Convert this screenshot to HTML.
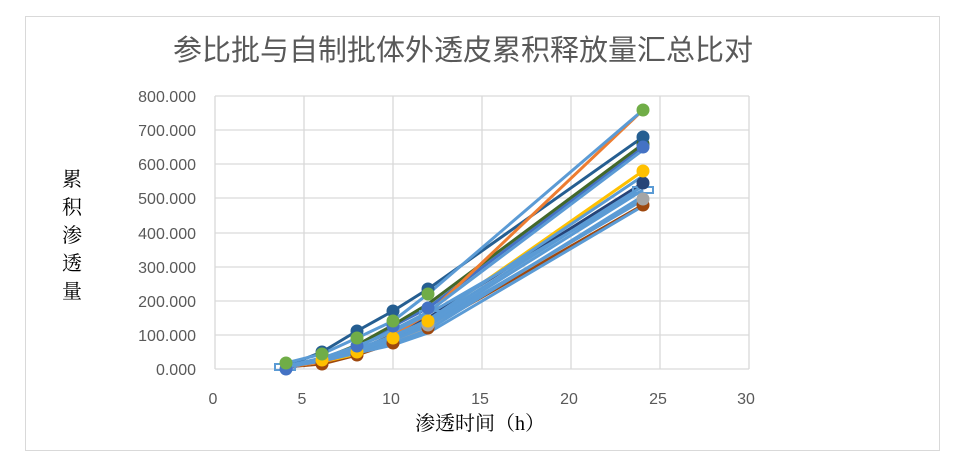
<!DOCTYPE html><html><head><meta charset="utf-8"><style>body{margin:0;background:#fff}svg{display:block}.s{font-family:"Liberation Sans","Noto Sans CJK SC",sans-serif}.sr{font-family:"Liberation Serif","Noto Serif CJK SC",serif}</style></head><body>
<svg width="966" height="466" viewBox="0 0 966 466">
<rect x="0" y="0" width="966" height="466" fill="#fff"/>
<rect x="25.5" y="16.5" width="914" height="434" fill="#fff" stroke="#d9d9d9"/>
<text class="s" x="463" y="60" font-size="29" fill="#595959" text-anchor="middle">参比批与自制批体外透皮累积释放量汇总比对</text>
<g stroke="#d9d9d9" stroke-width="1.3">
<line x1="215" y1="96" x2="749" y2="96"/><line x1="215" y1="130" x2="749" y2="130"/><line x1="215" y1="164" x2="749" y2="164"/><line x1="215" y1="198" x2="749" y2="198"/><line x1="215" y1="233" x2="749" y2="233"/><line x1="215" y1="267" x2="749" y2="267"/><line x1="215" y1="301" x2="749" y2="301"/><line x1="215" y1="335" x2="749" y2="335"/><line x1="215" y1="369" x2="749" y2="369"/>
<line x1="215" y1="96" x2="215" y2="369"/><line x1="304" y1="96" x2="304" y2="369"/><line x1="393" y1="96" x2="393" y2="369"/><line x1="482" y1="96" x2="482" y2="369"/><line x1="571" y1="96" x2="571" y2="369"/><line x1="660" y1="96" x2="660" y2="369"/><line x1="749" y1="96" x2="749" y2="369"/>
</g>
<g class="s" font-size="16" fill="#595959" text-anchor="end">
<text x="196" y="102">800.000</text><text x="196" y="136">700.000</text><text x="196" y="170">600.000</text><text x="196" y="204">500.000</text><text x="196" y="239">400.000</text><text x="196" y="273">300.000</text><text x="196" y="307">200.000</text><text x="196" y="341">100.000</text><text x="196" y="375">0.000</text>
</g>
<g class="s" font-size="16" fill="#595959" text-anchor="middle">
<text x="213" y="404">0</text><text x="302" y="404">5</text><text x="391" y="404">10</text><text x="480" y="404">15</text><text x="569" y="404">20</text><text x="658" y="404">25</text><text x="746" y="404">30</text>
</g>
<text class="sr" x="480" y="430" font-size="20" fill="#000" text-anchor="middle">渗透时间（h）</text>
<g class="sr" font-size="20" fill="#000" text-anchor="middle">
<text x="72" y="186">累</text><text x="72" y="214">积</text><text x="72" y="242">渗</text><text x="72" y="270">透</text><text x="72" y="298">量</text>
</g>
<g fill="none" stroke-width="3" stroke-linejoin="round">
<polyline stroke="#9e480e" points="286,367 322,364 357,355 393,343 428,328 643,205"/>
<polyline stroke="#a5a5a5" points="286,367 322,362 357,352 393,342 428,328 643,199"/>
<polyline stroke="#264478" points="286,367 322,360 357,350 393,335 428,318 643,183"/>
<polyline stroke="#ffc000" points="286,367 322,362 357,354 393,338 428,321 643,171"/>
<polyline stroke="#4472c4" points="286,369 322,359 357,348 393,326 428,308 643,147"/>
<polyline stroke="#43682b" points="286,366 322,359 357,345 393,325 428,304 643,144"/>
<polyline stroke="#255e91" points="286,366 322,352 357,331 393,311 428,289 643,137"/>
<polyline stroke="#ed7d31" points="286,367 322,362 357,352 393,335 428,314 643,110"/>
<polyline stroke="#5b9bd5" points="286,367 322,360 357,351 393,343 428,330 643,196"/>
<polyline stroke="#5b9bd5" points="286,366 322,361 357,353 393,345 428,333 643,206"/>
<polyline stroke="#5b9bd5" points="286,366 322,358 357,348 393,338 428,322 643,186"/>
<polyline stroke="#5b9bd5" points="286,366 322,359 357,350 393,340 428,325 643,190"/>
<polyline stroke="#5b9bd5" points="286,367 322,361 357,350 393,340 428,326 643,200"/>
<polyline stroke="#5b9bd5" points="286,367 322,359 357,349 393,336 428,320 643,176"/>
<polyline stroke="#5b9bd5" points="286,367 322,358 357,347 393,330 428,312 643,150"/>
<polyline stroke="#5b9bd5" points="286,363 322,354 357,338 393,321 428,294 643,110"/>
<polyline stroke="#5b9bd5" points="286,367 322,358 357,346 393,332 428,314 643,190"/>
</g>
<g>
<rect x="275" y="364" width="20" height="6" fill="none" stroke="#5b9bd5" stroke-width="2"/>
<rect x="633" y="187" width="20" height="6" fill="none" stroke="#5b9bd5" stroke-width="2"/>
<rect x="420" y="311" width="20" height="6" fill="none" stroke="#5b9bd5" stroke-width="2"/>
<circle cx="643" cy="205" r="6.5" fill="#9e480e"/><circle cx="643" cy="199" r="6.5" fill="#a5a5a5"/>
<circle cx="643" cy="183" r="6.5" fill="#264478"/><circle cx="643" cy="171" r="6.5" fill="#ffc000"/>
<circle cx="643" cy="144" r="6.5" fill="#43682b"/><circle cx="643" cy="137" r="6.5" fill="#255e91"/>
<circle cx="643" cy="147" r="6.5" fill="#4472c4"/><circle cx="643" cy="110" r="6.5" fill="#70ad47"/>
<circle cx="428" cy="328" r="6.5" fill="#9e480e"/><circle cx="428" cy="325" r="6.5" fill="#a5a5a5"/><circle cx="428" cy="321" r="6.5" fill="#ffc000"/><circle cx="428" cy="308" r="6.5" fill="#4472c4"/><circle cx="428" cy="289" r="6.5" fill="#255e91"/><circle cx="428" cy="294" r="6.5" fill="#70ad47"/>
<circle cx="393" cy="343" r="6.5" fill="#9e480e"/><circle cx="393" cy="338" r="6.5" fill="#ffc000"/><circle cx="393" cy="326" r="6.5" fill="#4472c4"/><circle cx="393" cy="311" r="6.5" fill="#255e91"/><circle cx="393" cy="321" r="6.5" fill="#70ad47"/>
<circle cx="357" cy="355" r="6.5" fill="#9e480e"/><circle cx="357" cy="352" r="6.5" fill="#ffc000"/><circle cx="357" cy="346" r="6.5" fill="#4472c4"/><circle cx="357" cy="331" r="6.5" fill="#255e91"/><circle cx="357" cy="338" r="6.5" fill="#70ad47"/>
<circle cx="322" cy="364" r="6.5" fill="#9e480e"/><circle cx="322" cy="360" r="6.5" fill="#ffc000"/><circle cx="322" cy="352" r="6.5" fill="#255e91"/><circle cx="322" cy="354" r="6.5" fill="#70ad47"/>
<circle cx="286" cy="369" r="6.5" fill="#4472c4"/><circle cx="286" cy="363" r="6.5" fill="#70ad47"/>
</g>
</svg></body></html>
